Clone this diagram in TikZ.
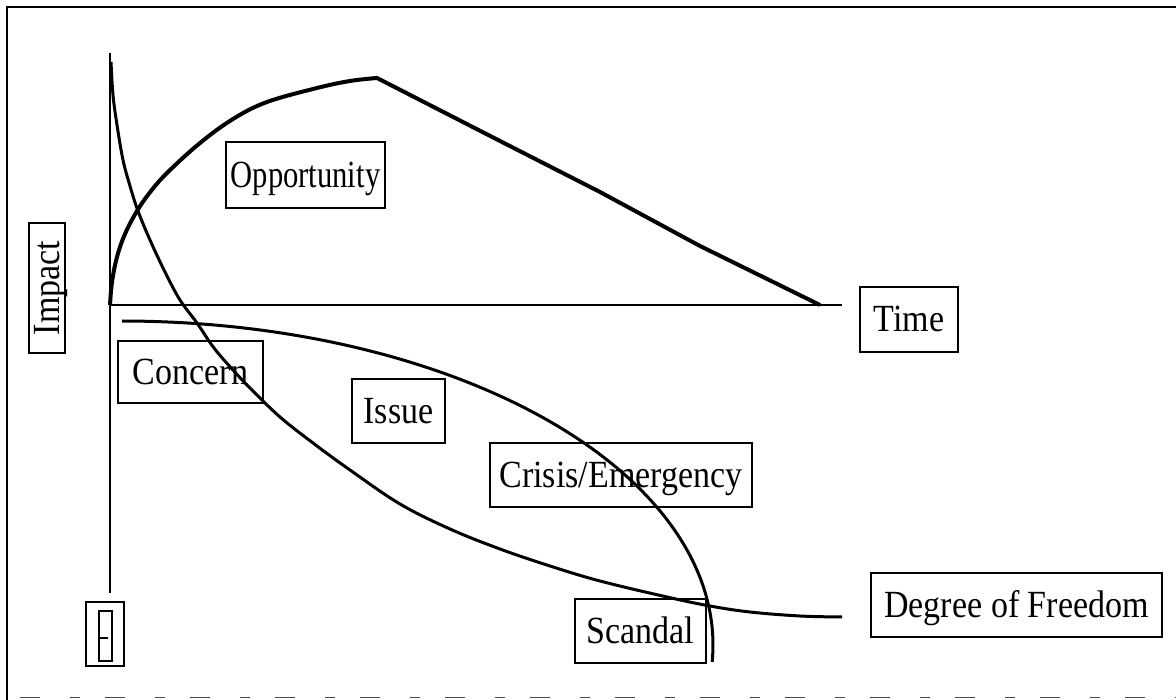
\documentclass[tikz,border=0pt]{standalone}
\usepackage{fontspec}
\setmainfont{Liberation Serif}
\newcommand{\tallt}[2][1]{\scalebox{#1}[1.13]{#2}}
\begin{document}
\begin{tikzpicture}[x=1pt,y=-1pt,
  lbl/.style={draw,line width=1.1pt,inner sep=0pt,font=\fontsize{34}{36}\selectfont,text height=25pt,text depth=0pt,align=center},
  axis/.style={line width=1.4pt},
  curve/.style={line width=3pt,line join=round},
  thick curve/.style={line width=4pt,line join=round}]
\useasboundingbox (0,0) rectangle (1176,700);
% frame
\draw[line width=1.3pt] (7,700) -- (7,7) -- (1176,7);
\draw[line width=0.8pt,black!70,dash pattern=on 20pt off 30pt on 10pt off 25pt] (20,697) -- (1176,697);
% axes
\coordinate (ytop) at (110,53);
\coordinate (ybot) at (110,593);
\coordinate (torig) at (110,305);
\coordinate (tend) at (842,305);
\draw[axis] (ytop) -- (ybot);
\draw[axis] (torig) -- (tend);
% labels
\node[lbl,minimum width=159,minimum height=66] (opp) at (305.5,175) {\tallt[0.9]{Opportunity}};
\node[lbl,minimum width=130,minimum height=36,rotate=90] (imp) at (47,288) {\tallt{Impact}};
\node[lbl,minimum width=98,minimum height=65] (time) at (909,319.5) {\tallt{Time}};
\node[lbl,minimum width=145,minimum height=62] (conc) at (190.5,372) {\tallt{Concern}};
\node[lbl,minimum width=93,minimum height=64] (iss) at (398.5,411) {\tallt{Issue}};
\node[lbl,minimum width=262,minimum height=64] (cri) at (621,475) {\tallt{Crisis/Emergency}};
\node[lbl,minimum width=131,minimum height=64] (sca) at (640.5,631) {\tallt{Scandal}};
\node[lbl,minimum width=291,minimum height=64] (dof) at (1016.5,605) {\tallt{Degree of Freedom}};
\node[draw,line width=1.1pt,minimum width=38,minimum height=64,inner sep=0pt] (glyph) at (105,634) {};
\draw[line width=1.1pt] (99,611) rectangle (112,661);
\draw[line width=1.1pt] (100,638) -- (108,638);
% opportunity curve
\coordinate (peak) at (377,78);
\coordinate (oend) at (820,305);
\draw[thick curve] plot[smooth,tension=0.6] coordinates {(110,305) (112,282) (117,257) (125,234) (137,211) (151,191) (168,172) (200,143) (233,119) (267,102) (317,88) (350,81) (377,78)}
  -- (500,141) -- (600,192) -- (700,246) -- (oend);
% hyperbolic curve
\coordinate (hend) at (842,617);
\draw[curve] plot[smooth,tension=0.6] coordinates {(111,62) (113,95) (117,125) (123,160) (130,186) (138,211) (150,240) (165,272) (180,300) (197,323) (214,348) (233,370) (250,388) (280,417) (313,443) (350,470) (400,504) (450,529) (500,549) (550,566) (600,581) (667,597) (710,606) (750,612) (800,616) (842,617)};
% quarter ellipse curve
\draw[curve] plot[domain=90:-3,samples=80,smooth] ({122+591*cos(\x)},{645-324*sin(\x)});
\end{tikzpicture}
\end{document}
